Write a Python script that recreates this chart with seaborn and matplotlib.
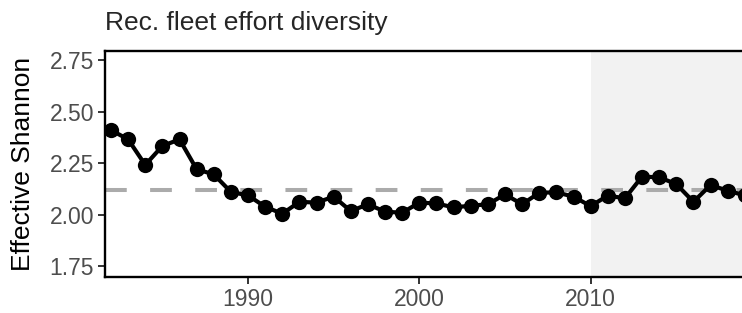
import numpy as np
import pandas as pd
import seaborn as sns
import matplotlib.pyplot as plt

years = list(range(1982, 2020))
eff_shannon = [2.412, 2.367, 2.243, 2.335, 2.367, 2.222, 2.197, 2.112,
               2.095, 2.040, 2.006, 2.064, 2.060, 2.089, 2.019, 2.052,
               2.016, 2.011, 2.060, 2.056, 2.037, 2.045, 2.052, 2.100,
               2.052, 2.108, 2.110, 2.089, 2.043, 2.094, 2.081, 2.186,
               2.183, 2.150, 2.064, 2.145, 2.118, 2.095]
shade_start = 2010
y_ticks = [1.75, 2.00, 2.25, 2.50, 2.75]
x_ticks = [1990, 2000, 2010]

df = pd.DataFrame({"Year": years, "Effective Shannon": eff_shannon})

sns.set_theme(style="white")
plt.rcParams['font.family'] = ['Liberation Sans', 'DejaVu Sans']

fig = plt.figure(figsize=(7.42, 3.13), dpi=100)
W, H = 742, 313
ax = fig.add_axes([105 / W, 36 / H, (760 - 105) / W, 226 / H])

ax.axvspan(shade_start, 2100, color="#F2F2F2", lw=0, zorder=0)
ax.axhline(np.mean(eff_shannon), color="#ABABAB", lw=2.9, dashes=(5.4, 5.8), zorder=1)
sns.lineplot(data=df, x="Year", y="Effective Shannon", ax=ax, color="black",
             lw=3.0, marker="o", markersize=11, markeredgewidth=0, zorder=3)

ax.set_xlim(1981.65, 1981.65 + 655 / 17.13)
ax.set_ylim(1.699, 2.796)
ax.set_xticks(x_ticks)
ax.set_yticks(y_ticks)
ax.set_yticklabels([f"{v:.2f}" for v in y_ticks])
ax.set_xlabel("")
ax.set_ylabel("Effective Shannon", fontsize=19, color="black", labelpad=10)
ax.set_title("Rec. fleet effort diversity", loc="left", fontsize=19, pad=15)

for s in ax.spines.values():
    s.set_color("black")
    s.set_linewidth(1.7)
ax.tick_params(axis="both", which="major", length=5, width=1.4, color="#333333",
               labelsize=16.5, labelcolor="#4D4D4D", pad=3,
               bottom=True, left=True)

fig.savefig("out.png", dpi=100)
